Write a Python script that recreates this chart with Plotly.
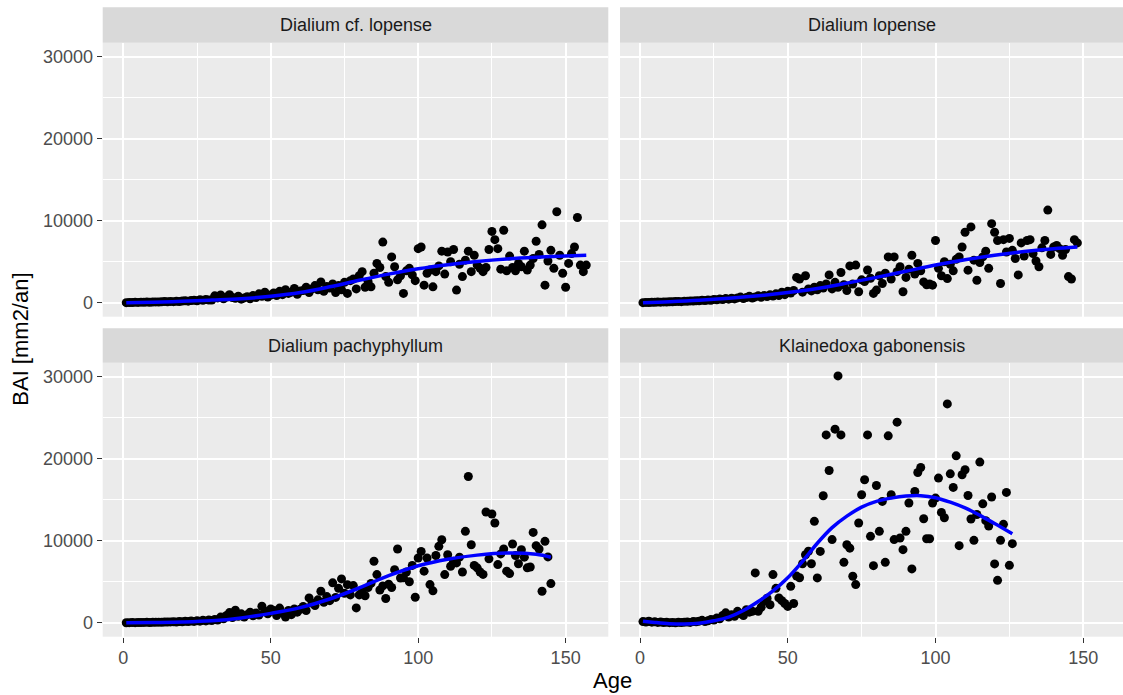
import plotly.graph_objects as go

# ---------------- data ----------------
panel_titles = ["Dialium cf. lopense", "Dialium lopense", "Dialium pachyphyllum", "Klainedoxa gabonensis"]

bai_cf_lopense = [
    20, 40, 30, 60, 50, 80, 70, 90, 60, 100,
    110, 90, 130, 150, 120, 170, 140, 190, 160, 210,
    250, 200, 280, 320, 260, 380, 300, 420, 350, 330,
    850, 600, 950, 500, 700, 1000, 650, 550, 800, 450,
    600, 750, 500, 900, 650, 1100, 800, 1300, 700, 950,
    1200, 900, 1400, 1000, 1600, 1150, 1300, 1750, 1050, 1450,
    1500, 1900, 1250, 1700, 2100, 1600, 2550, 1400, 2000, 1800,
    2300, 1250, 2100, 1600, 2500, 1150, 2700, 2900, 1700, 3300,
    3800, 1900, 2600, 1950, 3600, 4800, 4300, 7400, 3200, 2500,
    5600, 4400, 2800, 3300, 1150, 3900, 4200, 3400, 2700, 6600,
    6800, 2150, 3600, 4000, 1950, 3800, 4500, 6300, 3500, 6200,
    5000, 6500, 1550, 4700, 3200, 5200, 6300, 3800, 5800, 4600,
    4200, 3800, 4300, 6500, 8700, 7700, 6600, 4100, 8850, 3900,
    5700, 4300, 3900, 4800, 4400, 6300, 4000, 4600, 5400, 7500,
    5900, 9500, 2150, 5100, 6400, 4200, 11100, 5800, 3600, 1900,
    4800, 6000, 6800, 10400, 4600, 3800, 4600,
]
fit_ages_cf_lopense = [1, 10, 20, 30, 40, 50, 60, 70, 80, 90, 100, 110, 120, 130, 140, 150, 157]
fit_cf_lopense = [0, 80, 180, 330, 500, 800, 1250, 1950, 2750, 3500, 4150, 4650, 5050, 5350, 5550, 5700, 5800]

bai_lopense = [
    20, 50, 40, 70, 60, 90, 80, 110, 100, 130,
    120, 150, 170, 140, 200, 180, 230, 210, 260, 240,
    300, 280, 350, 320, 420, 380, 460, 400, 520, 450,
    560, 480, 600, 700, 520, 650, 800, 580, 720, 850,
    680, 900, 760, 1000, 820, 1100, 900, 1300, 1000, 1400,
    1200, 1500, 3100, 2900, 1300, 3300, 1700, 1450, 1900, 1600,
    2100, 1800, 2300, 3400, 1700, 2500, 1900, 3700, 2200, 1500,
    4500, 2300, 4600, 1350, 2800, 2600, 4000, 3000, 1150, 1550,
    3300, 2350, 3600, 5600, 2900, 5600, 3800, 4400, 1350, 3100,
    4100, 5800, 3500, 4800, 3900, 2550, 2200, 2300, 2150, 7600,
    4200, 3300, 5000, 2950, 4700, 3900, 5300, 5600, 6800, 8600,
    3980, 9250, 5200, 2750, 4900, 5600, 6300, 4200, 9650, 8600,
    7600, 2350, 7700, 6200, 7850, 6400, 5400, 3400, 7300, 5700,
    7600, 7700, 6000, 5100, 4400, 6700, 7600, 11300, 5900, 6800,
    7000, 6600, 5800, 6500, 3200, 2900, 7700, 7300,
]
fit_ages_lopense = [1, 10, 20, 30, 40, 50, 60, 70, 80, 90, 100, 110, 120, 130, 140, 148]
fit_lopense = [0, 120, 300, 550, 850, 1250, 1750, 2400, 3100, 3850, 4600, 5250, 5800, 6250, 6600, 6800]

bai_pachyphyllum = [
    10, 20, 30, 20, 40, 30, 50, 60, 40, 70,
    60, 80, 70, 100, 90, 110, 130, 100, 150, 120,
    180, 150, 220, 170, 250, 200, 300, 230, 350, 280,
    420, 330, 700, 500, 900, 1250, 650, 1530, 800, 1100,
    700, 1000, 1300, 850, 1200, 950, 2020, 1400, 1100, 1700,
    1500, 900, 1800, 1200, 700, 1500, 1000, 1700, 1300, 1650,
    2000, 1500, 3040, 2400, 2100, 2800, 3850, 2500, 3200, 2700,
    4870, 3100, 4200, 5350, 3600, 4650, 3400, 4540, 1820, 3400,
    3900, 3300, 4300, 4800, 7500, 5880, 4000, 4500, 2970, 4700,
    4300, 6480, 9000, 5460, 5500, 6200, 5000, 7000, 3120, 7900,
    8700, 6300, 7900, 4660, 3900, 8200, 9320, 10130, 5880, 8300,
    6890, 7500, 7300, 8000, 6200, 11150, 17830, 9520, 7000, 6700,
    6200, 5900, 13500, 7800, 13260, 12160, 7100, 8400, 9000, 6300,
    6000, 9610, 8200, 7200, 8900, 8000, 6700, 6800, 11020, 9400,
    9000, 3850, 9930, 8030, 4780,
]
fit_ages_pachyphyllum = [1, 10, 20, 30, 40, 50, 60, 70, 80, 90, 100, 110, 120, 130, 140, 145]
fit_pachyphyllum = [0, 40, 100, 250, 600, 1150, 1850, 2900, 4250, 5750, 6950, 7750, 8250, 8500, 8350, 8000]

bai_klainedoxa = [
    150, 100, 200, 80, 120, 50, 100, 30, 80, 20,
    50, 0, 60, 30, 80, 100, 50, 150, 120, 200,
    300, 150, 250, 400, 350, 600, 500, 900, 1220, 700,
    1000, 800, 1400, 1100, 900, 1600, 1300, 1410, 6080, 1410,
    1900, 2630, 3000, 2200, 5880, 4200, 3040, 2700, 2350, 2000,
    4450, 2350, 5700, 5500, 7200, 8300, 8720, 7200, 12370, 5470,
    8700, 15490, 22900, 18570, 10140, 23600, 30090, 22900, 7370, 9520,
    9100, 5670, 4660, 12170, 15610, 17430, 22900, 10540, 6970, 16740,
    11150, 14800, 7370, 22790, 15610, 10140, 24450, 10340, 8920, 11150,
    14600, 6570, 16010, 18320, 18930, 12690, 10250, 10250, 14600, 15200,
    17640, 13460, 12800, 26680, 18160, 16500, 20350, 9400, 18040, 18660,
    15520, 12650, 10050, 13200, 19590, 14500, 12450, 11800, 15330, 7180,
    5180, 10050, 12000, 15890, 7010, 9650,
]
fit_ages_klainedoxa = [1, 5, 10, 15, 20, 25, 30, 35, 40, 45, 50, 55, 60, 65, 70, 75, 80, 85, 90, 95, 100, 105, 110, 115, 120, 126]
fit_klainedoxa = [200, 50, -100, -150, -50, 250, 700, 1500, 2600, 3900, 5500, 7500, 9700, 11600, 13000, 14100,
                  14800, 15200, 15450, 15500, 15250, 14700, 14000, 13100, 12100, 10850]

x_tick_vals = [0, 50, 100, 150]
x_tick_text = ["0", "50", "100", "150"]
y_tick_vals = [0, 10000, 20000, 30000]
y_tick_text = ["0", "10000", "20000", "30000"]

# ---------------- layout geometry ----------------
W, H = 1123, 695
FONT = "Liberation Sans, Arial, Helvetica, sans-serif"
TICK_SIZE = 18
STRIP_SIZE = 18
TITLE_SIZE = 22

col_px = [(102.7, 608.3), (620.0, 1123.0)]
row_px = [(42.7, 316.7), (362.7, 636.7)]     # plot area top/bottom
strip_px = [(7.3, 42.7), (328.3, 362.7)]
x_ranges = [[-6.99, 164.47], [-6.77, 163.45]]
y_range = [-1690, 31700]

series = [
    (bai_cf_lopense, fit_ages_cf_lopense, fit_cf_lopense),
    (bai_lopense, fit_ages_lopense, fit_lopense),
    (bai_pachyphyllum, fit_ages_pachyphyllum, fit_pachyphyllum),
    (bai_klainedoxa, fit_ages_klainedoxa, fit_klainedoxa),
]

fig = go.Figure()
shapes = []
annotations = []

for i, (vals, fa, fv) in enumerate(series):
    r, c = divmod(i, 2)
    sfx = "" if i == 0 else str(i + 1)
    ages = list(range(1, len(vals) + 1))
    fig.add_trace(go.Scatter(x=ages, y=vals, mode="markers",
                             marker=dict(color="black", size=9, line=dict(width=0)),
                             xaxis="x" + sfx, yaxis="y" + sfx, showlegend=False, hoverinfo="x+y"))
    fig.add_trace(go.Scatter(x=fa, y=fv, mode="lines", line=dict(color="#0000FF", width=3.5, shape="spline", smoothing=1.0),
                             xaxis="x" + sfx, yaxis="y" + sfx, showlegend=False, hoverinfo="skip"))

    x0p, x1p = col_px[c]
    t, b = row_px[r]
    xdom = [x0p / W, x1p / W]
    ydom = [1 - b / H, 1 - t / H]
    bottom = (r == 1)
    left = (c == 0)
    xa = dict(domain=xdom, range=x_ranges[c], anchor="y" + sfx,
              tickmode="array", tickvals=x_tick_vals, ticktext=x_tick_text,
              showticklabels=bottom, ticks="outside" if bottom else "",
              ticklen=5, tickwidth=1.3, tickcolor="#333333",
              tickfont=dict(family=FONT, size=TICK_SIZE, color="#4D4D4D"),
              showgrid=True, gridcolor="white", gridwidth=1.8, zeroline=False, showline=False,
              minor=dict(dtick=25, tick0=0, showgrid=True, gridcolor="white", gridwidth=0.9, ticks=""))
    ya = dict(domain=ydom, range=y_range, anchor="x" + sfx,
              tickmode="array", tickvals=y_tick_vals, ticktext=y_tick_text,
              showticklabels=left, ticks="outside" if left else "",
              ticklen=5, tickwidth=1.3, tickcolor="#333333",
              tickfont=dict(family=FONT, size=TICK_SIZE, color="#4D4D4D"),
              showgrid=True, gridcolor="white", gridwidth=1.8, zeroline=False, showline=False,
              minor=dict(dtick=5000, tick0=0, showgrid=True, gridcolor="white", gridwidth=0.9, ticks=""))
    fig.update_layout(**{"xaxis" + sfx: xa, "yaxis" + sfx: ya})

    st, sb = strip_px[r]
    shapes.append(dict(type="rect", xref="paper", yref="paper", x0=xdom[0], x1=xdom[1],
                       y0=1 - sb / H, y1=1 - st / H, fillcolor="#D9D9D9", line=dict(width=0), layer="below"))
    annotations.append(dict(text=panel_titles[i], xref="paper", yref="paper",
                            x=(xdom[0] + xdom[1]) / 2, y=1 - (st + sb) / 2 / H,
                            showarrow=False, xanchor="center", yanchor="middle",
                            font=dict(family=FONT, size=STRIP_SIZE, color="#1A1A1A")))

annotations.append(dict(text="Age", xref="paper", yref="paper", x=(102.7 + 1123) / 2 / W, y=1 - 680 / H,
                        showarrow=False, xanchor="center", yanchor="middle",
                        font=dict(family=FONT, size=TITLE_SIZE, color="black")))
annotations.append(dict(text="BAI [mm2/an]", xref="paper", yref="paper", x=21 / W, y=1 - 339.7 / H,
                        showarrow=False, xanchor="center", yanchor="middle", textangle=-90,
                        font=dict(family=FONT, size=TITLE_SIZE, color="black")))

fig.update_layout(width=W, height=H, margin=dict(l=0, r=0, t=0, b=0),
                  paper_bgcolor="white", plot_bgcolor="#EBEBEB",
                  shapes=shapes, annotations=annotations, showlegend=False)

fig.write_html("out.html")
